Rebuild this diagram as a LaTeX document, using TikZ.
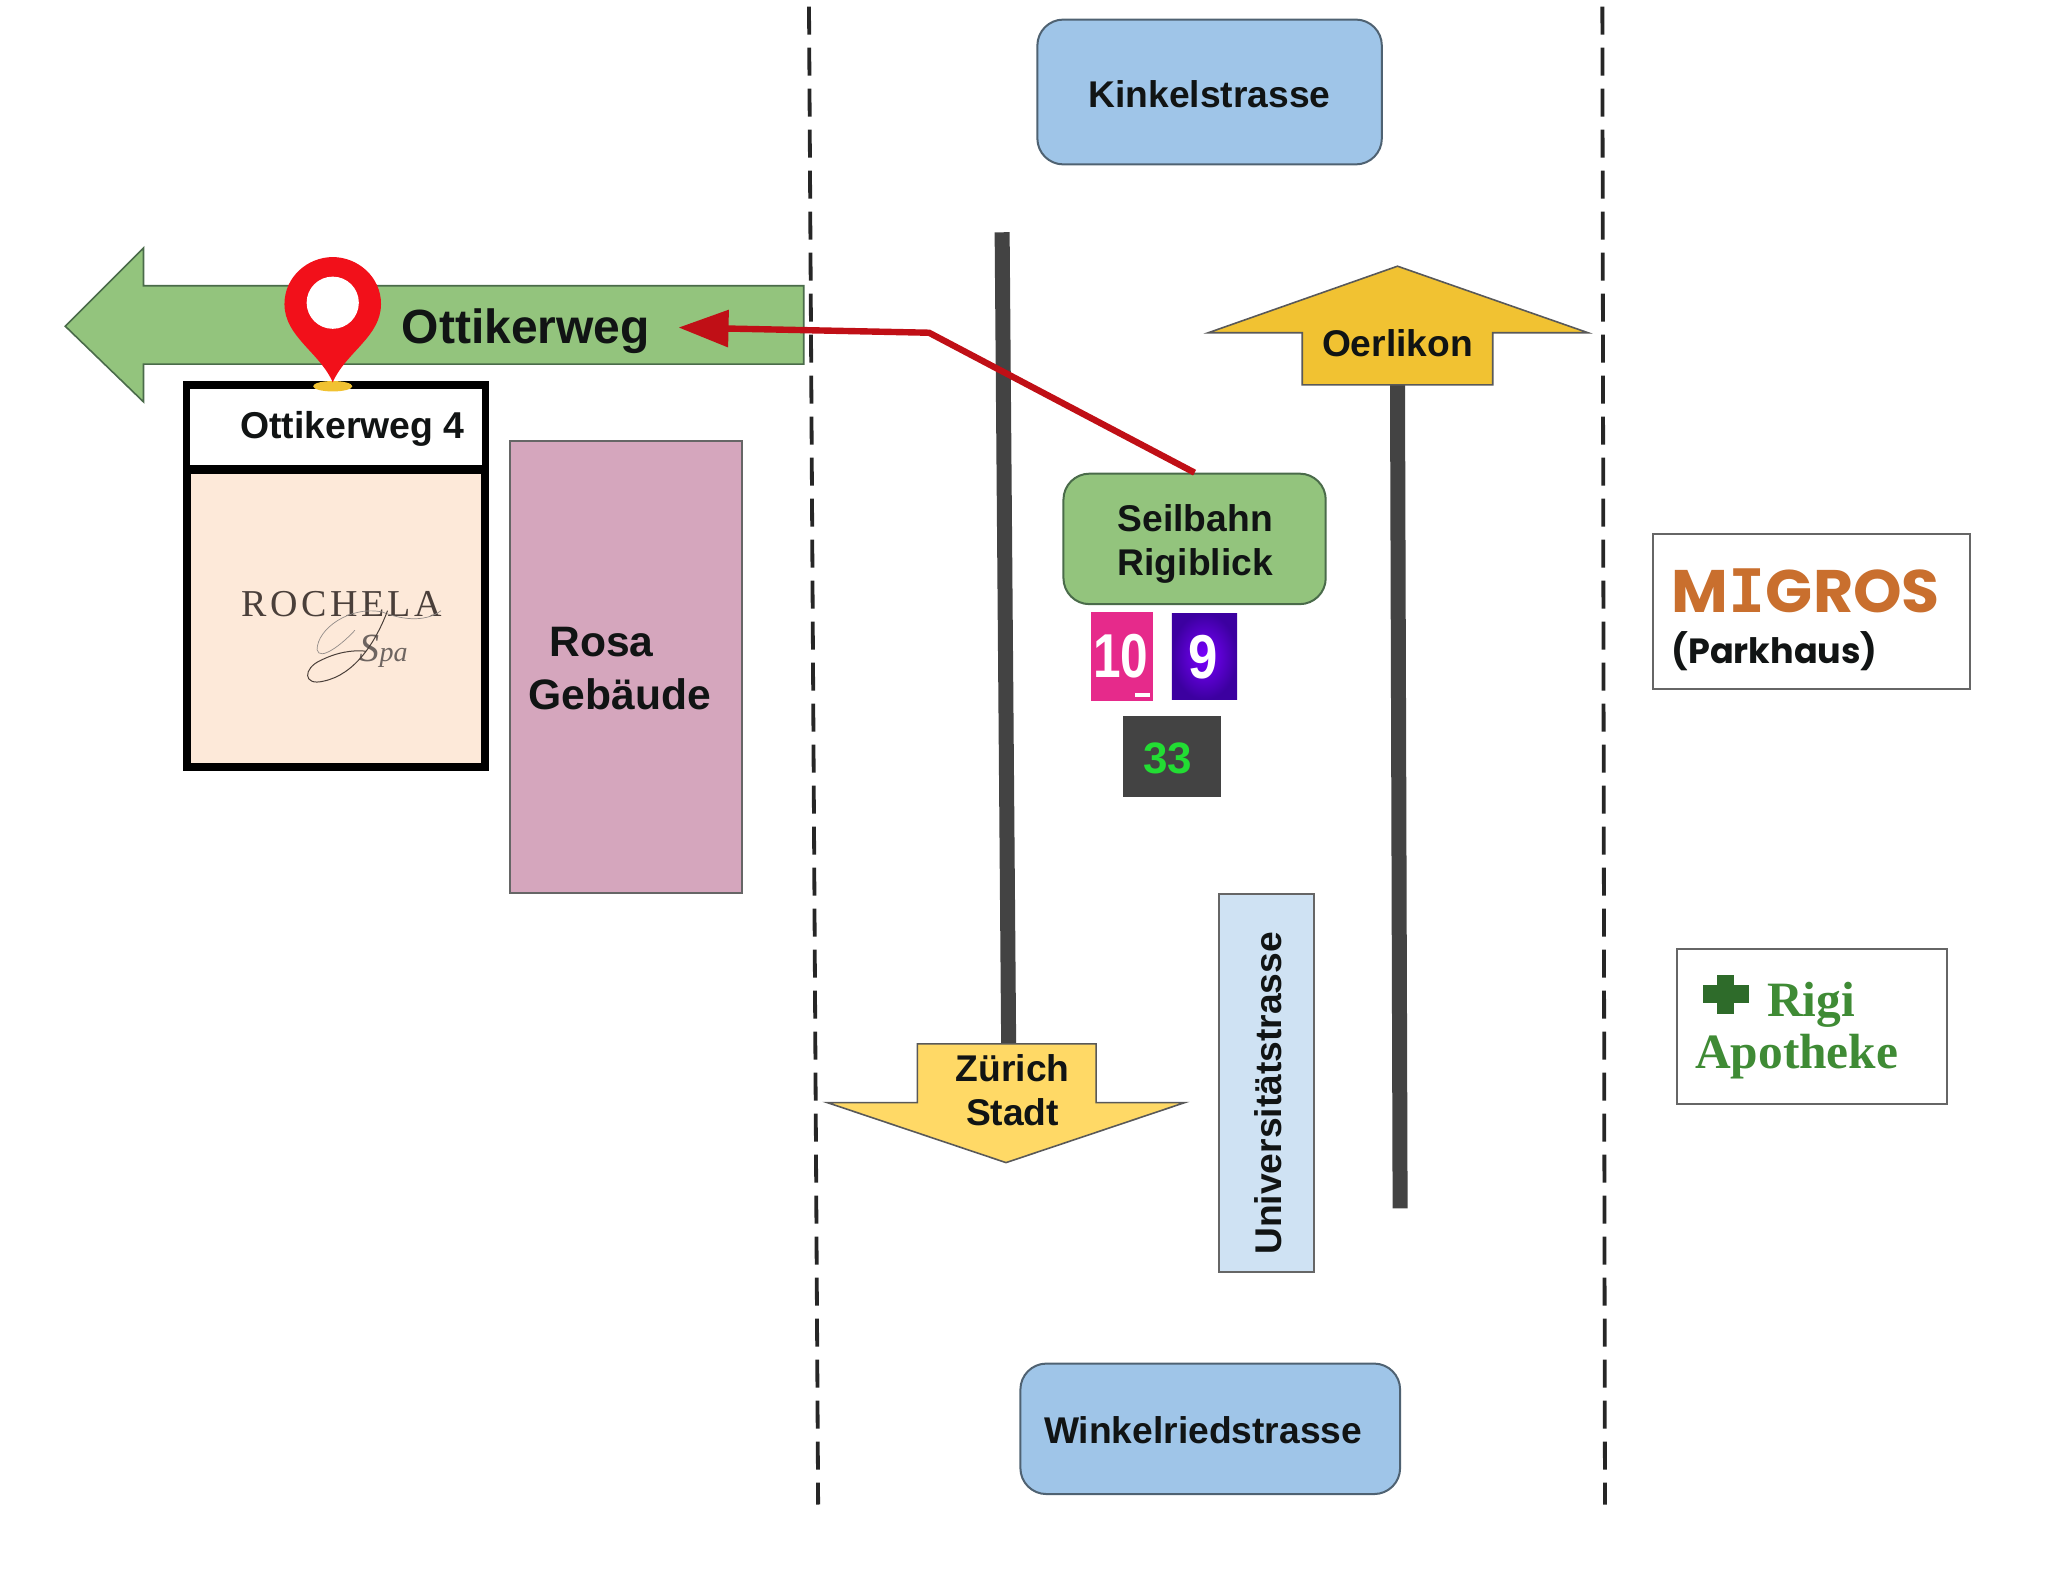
\documentclass[tikz,border=0pt]{standalone}
\usepackage{fontspec}
\setmainfont{Liberation Sans}
\newfontfamily\serifrm{Liberation Serif}
\newfontfamily\rochfont[LetterSpace=9]{Liberation Serif}
\newfontfamily\popfont{Poppins}
\newfontfamily\slabfont{DejaVu Sans Mono}
\usetikzlibrary{arrows.meta}
\definecolor{boxblue}{HTML}{9FC5E8}
\definecolor{paleblue}{HTML}{CFE2F3}
\definecolor{edgeblue}{HTML}{4F6272}
\definecolor{leaf}{HTML}{93C47D}
\definecolor{edgeleaf}{HTML}{4A6B4A}
\definecolor{rose}{HTML}{D5A6BD}
\definecolor{peach}{HTML}{FDE9D9}
\definecolor{road}{HTML}{434343}
\definecolor{amber}{HTML}{F1C232}
\definecolor{sun}{HTML}{FFD966}
\definecolor{routered}{HTML}{C00F16}
\definecolor{pinred}{HTML}{F2101A}
\definecolor{inkdark}{HTML}{111414}
\definecolor{migorange}{HTML}{C96F2E}
\definecolor{apogreen}{HTML}{3F8B35}
\definecolor{crossgreen}{HTML}{2E6B2A}
\definecolor{spaink}{HTML}{4A3F3A}
\definecolor{tenpink}{HTML}{E62A8B}
\definecolor{ninecore}{HTML}{7A00FF}
\definecolor{nineedge}{HTML}{3C00A0}
\definecolor{busgreen}{HTML}{22DD33}
\newcommand{\bx}[6]{\node[#6,inner sep=0pt,minimum width={(#4-#2)*0.6524pt},minimum height={(#5-#3)*0.6524pt}] (#1) at ({(#2+#4)/2},{(#3+#5)/2}) {};}
\tikzset{
 x=0.6524pt,y=-0.6524pt,
 lbl/.style={inner sep=0pt,text=inkdark,font=\bfseries\fontsize{#1}{#1}\selectfont,align=center},
 bluebox/.style={draw=edgeblue,fill=boxblue,line width=1pt,rounded corners=13pt},
 greenbox/.style={draw=edgeleaf,fill=leaf,line width=1pt,rounded corners=13pt},
 plainbox/.style={draw=black!60,fill=white,line width=1pt},
 roadline/.style={road,line width=7.5pt},
 fence/.style={black!85,line width=1.9pt,dash pattern=on 14pt off 6.5pt},
 arrowshape/.style={draw=black!65,line width=0.8pt,line join=miter},
}
\begin{document}
\begin{tikzpicture}
\useasboundingbox (0,0) rectangle (1568,1207.8);
\coordinate (roadAtop) at (768,178);
\coordinate (roadBtip) at (1073,926);
\coordinate (fenceLa) at (620,5);
\coordinate (fenceLb) at (627,1153);
\coordinate (fenceRa) at (1228,5);
\coordinate (fenceRb) at (1230,1153);
\coordinate (bendpt) at (712,255);
\coordinate (routetip) at (520,251);
\coordinate (zurichtop) at (773,800);
\coordinate (oerlbottom) at (1071,295);
% top and bottom boxes
\bx{kinkel}{795}{15}{1059}{126}{bluebox}
\node[lbl=18.6] (kinkeltxt) at (927,72) {Kinkelstrasse};
\bx{winkel}{782}{1045}{1073}{1145}{bluebox}
\node[lbl=18.6] (winkeltxt) at (922,1096) {Winkelriedstrasse};
% Ottikerweg arrow
\draw[arrowshape,fill=leaf,draw=edgeleaf] (50,250) -- (110,190) -- (110,219) -- (616,219) -- (616,279) -- (110,279) -- (110,308) -- cycle;
\node[lbl=24] (ottiweg) at (403,254) {Ottikerweg};
% house
\bx{addr}{143}{295}{372}{359}{draw=black,fill=white,line width=3.6pt}
\node[lbl=18.7] (addrtxt) at (270,329) {Ottikerweg 4};
\bx{spa}{143}{360}{372}{588}{draw=black,fill=peach,line width=4pt}
\node[inner sep=0pt,text=spaink,font=\rochfont\fontsize{19}{19}\selectfont] (roch) at (262,463) {ROCHELA};
\node[inner sep=0pt,text=spaink!80,font=\serifrm\itshape\fontsize{14}{14}\selectfont] (spaword) at (294,499) {{\fontsize{20}{20}\selectfont S}pa};
\draw[spaink!60,line width=0.35pt] (338,468) .. controls (325,478) and (305,474) .. (293,469) .. controls (268,464) and (243,482) .. (243,498) .. controls (245,507) and (262,494) .. (272,483);
\draw[spaink,line width=0.5pt] (297,468) .. controls (288,492) and (272,517) .. (248,522) .. controls (232,526) and (232,512) .. (246,506) .. controls (258,500) and (270,498) .. (280,499);
% Rosa
\bx{rosa}{391}{338}{569}{684}{draw=black!60,fill=rose,line width=1pt}
\node[lbl=21.3] (rosatxt) at (461,492) {Rosa};
\node[lbl=21.3] (gebtxt) at (475,532) {Gebäude};
% roads
\draw[roadline] (roadAtop) -- (zurichtop);
\draw[roadline] (oerlbottom) -- (roadBtip);
% Oerlikon arrow
\draw[arrowshape,fill=amber] (1071,204) -- (1217,255) -- (1144,255) -- (1144,295) -- (998,295) -- (998,255) -- (926,255) -- cycle;
\node[lbl=18.6] (oerl) at (1071,263) {Oerlikon};
% Zurich arrow
\draw[arrowshape,fill=sun] (703,800) -- (840,800) -- (840,845) -- (908,845) -- (771,891) -- (634,845) -- (703,845) -- cycle;
\node[lbl=18.6] (zur) at (776,819) {Zürich};
\node[lbl=18.6] (stadt) at (776,852) {Stadt};
% Seilbahn
\bx{seil}{815}{363}{1016}{463}{greenbox}
\node[lbl=18.6] (seila) at (916,397) {Seilbahn};
\node[lbl=18.6] (seilb) at (916,434) {Rigiblick};
% line badges
\bx{ten}{836}{469}{884}{537}{fill=tenpink}
\node[inner sep=0pt,text=white,font=\bfseries\fontsize{31}{31}\selectfont,xscale=0.8] (tentxt) at (859,503) {10};
\bx{tenmark}{870}{531}{881}{534}{fill=white}
\bx{nine}{898}{470}{948}{536}{shading=radial,inner color=ninecore,outer color=nineedge}
\node[inner sep=0pt,text=white,font=\bfseries\fontsize{31}{31}\selectfont,xscale=0.85] (ninetxt) at (922,504) {9};
\bx{bus}{861}{549}{936}{611}{fill=road}
\node[inner sep=0pt,text=busgreen,font=\bfseries\fontsize{22}{22}\selectfont] (bustxt) at (895,581) {33};
% Universitaet
\bx{uni}{934}{685}{1007}{975}{draw=black!60,fill=paleblue,line width=1pt}
\node[lbl=18.6,rotate=90] (unitxt) at (972,838) {Universitätstrasse};
% Migros
\bx{mig}{1267}{409}{1510}{528}{plainbox}
\node[inner sep=0pt,text=migorange,font=\popfont\bfseries\fontsize{30}{30}\selectfont,xscale=1.03] (migtxt) at (1384,453) {M{\slabfont I}GROS};
\node[inner sep=0pt,text=inkdark,font=\popfont\bfseries\fontsize{17.5}{17.5}\selectfont] (parktxt) at (1360,499) {(Parkhaus)};
% Apotheke
\bx{apo}{1285}{727}{1492}{846}{plainbox}
\fill[crossgreen] (1316,747) rectangle (1329,777);
\fill[crossgreen] (1305,755) rectangle (1340,769);
\node[inner sep=0pt,text=apogreen,font=\serifrm\bfseries\fontsize{24.7}{24.7}\selectfont] (rigitxt) at (1388,770) {Rigi};
\node[inner sep=0pt,text=apogreen,font=\serifrm\bfseries\fontsize{24.7}{24.7}\selectfont] (apotxt) at (1377,810) {Apotheke};
% pin
\fill[amber] (255,296) ellipse (15 and 4);
\fill[pinred] (255,293) .. controls (245,270) and (218,258) .. (218,233) .. controls (218,212) and (236,197) .. (255,197) .. controls (274,197) and (292,212) .. (292,233) .. controls (292,258) and (265,270) .. (255,293) -- cycle;
\fill[white] (255,232) circle (20);
% route
\draw[routered,line width=3.2pt,-{Triangle[length=25pt,width=18pt]}] (seil.north) -- (bendpt) -- (routetip);
% fences
\draw[fence] (fenceLa) -- (fenceLb);
\draw[fence] (fenceRa) -- (fenceRb);
\end{tikzpicture}
\end{document}
